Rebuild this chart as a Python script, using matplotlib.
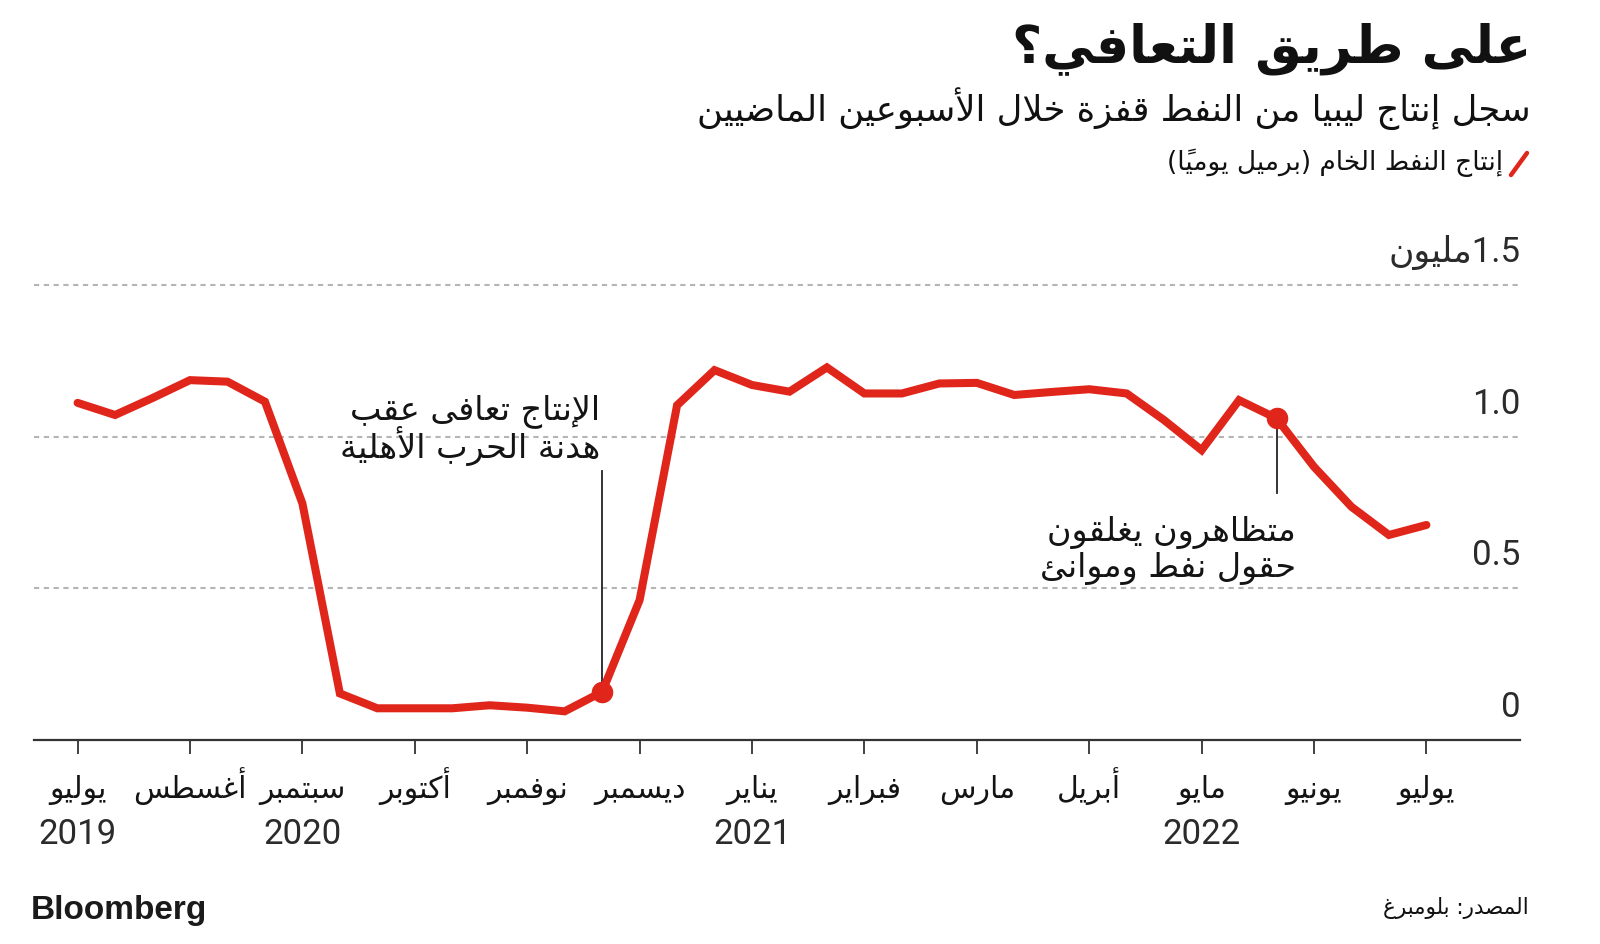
import numpy as np
import matplotlib
matplotlib.use("Agg")
import matplotlib.pyplot as plt
from matplotlib.lines import Line2D

# ---------------- data ----------------
month_labels = ["يوليو", "أغسطس", "سبتمبر", "أكتوبر", "نوفمبر", "ديسمبر", "يناير",
                "فبراير", "مارس", "أبريل", "مايو", "يونيو", "يوليو"]
year_labels = ["2019", "2020", "2021", "2022"]
year_positions = [0, 2, 6, 10]
# crude oil production, million barrels per day (3 readings per axis interval)
production = [1.112, 1.072, 1.128, 1.187, 1.182, 1.116, 0.780, 0.153, 0.104, 0.104,
              0.104, 0.114, 0.106, 0.094, 0.158, 0.461, 1.104, 1.220, 1.171, 1.149,
              1.229, 1.143, 1.143, 1.176, 1.178, 1.138, 1.148, 1.157, 1.143, 1.055,
              0.956, 1.121, 1.061, 0.901, 0.769, 0.676, 0.709]
readings_per_interval = 3
highlight_idx = [14, 32]
grid_values = [0.5, 1.0, 1.5]
y_label_values = [0, 0.5, 1.0, 1.5]
y_label_texts = ["0", "0.5", "1.0", "1.5مليون"]

title = "على طريق التعافي؟"
subtitle = "سجل إنتاج ليبيا من النفط قفزة خلال الأسبوعين الماضيين"
legend_text = "إنتاج النفط الخام (برميل يومياً)"
note1 = "الإنتاج تعافى عقب\nهدنة الحرب الأهلية"
note2 = "متظاهرون يغلقون\nحقول نفط وموانئ"
source = "المصدر: بلومبرغ"

# ---------------- minimal Arabic shaping + RTL ordering ----------------
DUAL = {'ئ': 0xFE89, 'ب': 0xFE8F, 'ت': 0xFE95, 'ث': 0xFE99, 'ج': 0xFE9D, 'ح': 0xFEA1,
        'خ': 0xFEA5, 'س': 0xFEB1, 'ش': 0xFEB5, 'ص': 0xFEB9, 'ض': 0xFEBD, 'ط': 0xFEC1,
        'ظ': 0xFEC5, 'ع': 0xFEC9, 'غ': 0xFECD, 'ف': 0xFED1, 'ق': 0xFED5, 'ك': 0xFED9,
        'ل': 0xFEDD, 'م': 0xFEE1, 'ن': 0xFEE5, 'ه': 0xFEE9, 'ي': 0xFEF1}
RIGHT = {'آ': 0xFE81, 'أ': 0xFE83, 'ؤ': 0xFE85, 'إ': 0xFE87, 'ا': 0xFE8D, 'ة': 0xFE93,
         'د': 0xFEA9, 'ذ': 0xFEAB, 'ر': 0xFEAD, 'ز': 0xFEAF, 'و': 0xFEED, 'ى': 0xFEEF}
NONJ = {'ء': 0xFE80}
LAMALEF = {'آ': 0xFEF5, 'أ': 0xFEF7, 'إ': 0xFEF9, 'ا': 0xFEFB}
MIRROR = {'(': ')', ')': '(', '[': ']', ']': '['}


def _mark(c):
    return '\u064B' <= c <= '\u0652'


def _letter(c):
    return c in DUAL or c in RIGHT or c in NONJ


def _shape(s):
    out, n, i, pj = [], len(s), 0, False
    while i < n:
        c = s[i]
        if _mark(c):
            out.append(c); i += 1; continue
        if not _letter(c):
            out.append(c); pj = False; i += 1; continue
        j = i + 1
        while j < n and _mark(s[j]):
            j += 1
        nxt = s[j] if j < n else None
        if c == 'ل' and nxt in LAMALEF:
            out.append(chr(LAMALEF[nxt] + (1 if pj else 0)))
            out.extend(s[i + 1:j])
            pj = False
            i = j + 1
            continue
        nj = nxt is not None and (nxt in DUAL or nxt in RIGHT)
        if c in DUAL:
            b = DUAL[c]
            f = b + 3 if (pj and nj) else b + 1 if pj else b + 2 if nj else b
            pj = True
        elif c in RIGHT:
            f = RIGHT[c] + (1 if pj else 0)
            pj = False
        else:
            f = NONJ[c]; pj = False
        out.append(chr(f)); i += 1
    return ''.join(out)


def _ltr(c):
    return c.isascii() and c.isalnum()


def _visual_line(s):
    s = _shape(s)
    cl = []
    for ch in s:
        if _mark(ch) and cl:
            cl[-1] += ch
        else:
            cl.append(ch)
    if not any(('\u0600' <= ch <= '\u06FF') or ('\uFE70' <= ch <= '\uFEFF') for ch in s):
        return s
    runs, i = [], 0
    while i < len(cl):
        if _ltr(cl[i]):
            j = i
            while j < len(cl) and (_ltr(cl[j]) or (cl[j] in '.,' and j + 1 < len(cl) and _ltr(cl[j + 1]))):
                j += 1
            runs.append(''.join(cl[i:j])); i = j
        else:
            runs.append(MIRROR.get(cl[i], cl[i])); i += 1
    return ''.join(reversed(runs))


def ar(s):
    return '\n'.join(_visual_line(l) for l in s.split('\n'))


# ---------------- styling ----------------
RED = '#e0261b'
TXT = '#141414'
NUMC = '#2b2b2b'
GRID = '#b5b5b5'
AR = ['DejaVu Sans']
NUM = ['Roboto', 'DejaVu Sans']

W, H = 1600, 944
fig = plt.figure(figsize=(W / 100, H / 100), dpi=100)
fig.patch.set_facecolor('white')

x0_px, x1_px = 33.7, 1520.4
tick0_px, tick_step_px = 77.6, 112.4
zero_px, unit_px = 739.8, 303.0
ytop = 1.6
ax = fig.add_axes([x0_px / W, (H - zero_px) / H, (x1_px - x0_px) / W, ytop * unit_px / H])
ax.set_xlim(-(tick0_px - x0_px) / tick_step_px, (x1_px - tick0_px) / tick_step_px)
ax.set_ylim(0, ytop)

for s in ['top', 'left', 'right']:
    ax.spines[s].set_visible(False)
ax.spines['bottom'].set_color('#333333')
ax.spines['bottom'].set_linewidth(1.6)

# grid
ax.set_yticks(grid_values)
ax.yaxis.grid(True, color=GRID, linestyle=(0, (2.5, 2.2)), linewidth=1.5)
ax.tick_params(axis='y', length=0, labelleft=False)
ax.set_axisbelow(True)

# x ticks
positions = np.arange(len(month_labels))
ax.set_xticks(positions)
ax.set_xticklabels([ar(m) for m in month_labels], fontfamily=AR, fontsize=21.5, color=TXT)
ax.tick_params(axis='x', which='major', direction='out', length=10, width=1.3,
               color='#333333', pad=32)
for t in ax.get_xticklabels():
    t.set_verticalalignment('baseline')
ax.xaxis.remove_overlapping_locs = False
ax.set_xticks(year_positions, minor=True)
ax.set_xticklabels(year_labels, minor=True, fontfamily=NUM, fontsize=25, color=NUMC)
ax.tick_params(axis='x', which='minor', length=0, pad=75)
for t in ax.get_xticklabels(minor=True):
    t.set_verticalalignment('baseline')

# y labels
for v, t in zip(y_label_values, y_label_texts):
    ax.annotate(ar(t), xy=(1.0, v), xycoords=('axes fraction', 'data'),
                xytext=(0, 23), textcoords='offset pixels', ha='right', va='baseline',
                fontfamily=NUM, fontsize=25, color=NUMC)

# series
xs = np.arange(len(production)) / readings_per_interval
ax.plot(xs, production, color=RED, lw=5.8, solid_joinstyle='miter',
        solid_capstyle='round', zorder=3)
hx = xs[highlight_idx]
hy = np.array(production)[highlight_idx]
ax.plot(hx, hy, 'o', color=RED, ms=14.5, zorder=4)

# annotations
ax.plot([hx[0], hx[0]], [hy[0], 0.886], color='#222222', lw=1.3, zorder=2)
ax.text(hx[0] - 0.02, 0.905, ar(note1), ha='right', va='bottom', fontfamily=AR,
        fontsize=24, color=TXT, linespacing=0.92, multialignment='right')
ax.plot([hx[1], hx[1]], [hy[1], 0.815], color='#222222', lw=1.3, zorder=2)
ax.text(hx[1] + 0.17, 0.74, ar(note2), ha='right', va='top', fontfamily=AR,
        fontsize=24, color=TXT, linespacing=1.08, multialignment='right')

# titles
fig.text(1531 / W, 1 - 49 / H, ar(title), ha='right', va='center', fontfamily=AR,
         fontweight='bold', fontsize=37.5, color='#111111')
fig.text(1531 / W, 1 - 109 / H, ar(subtitle), ha='right', va='center', fontfamily=AR,
         fontsize=25.5, color='#111111')
fig.text(1503 / W, 1 - 163 / H, ar(legend_text), ha='right', va='center', fontfamily=AR,
         fontsize=19, color='#111111')
fig.add_artist(Line2D([1511 / W, 1527 / W], [1 - 175 / H, 1 - 153 / H], color=RED, lw=3.2,
                      solid_capstyle='round', transform=fig.transFigure))

# footer
fig.text(31 / W, 1 - 911 / H, "Bloomberg", ha='left', va='center',
         fontfamily=['Liberation Sans', 'DejaVu Sans'], fontweight='bold', fontsize=24,
         color='#1a1a1a')
fig.text(1529 / W, 1 - 908 / H, ar(source), ha='right', va='center', fontfamily=AR,
         fontsize=15.5, color='#111111')

fig.savefig('out.png', dpi=100, facecolor='white')
